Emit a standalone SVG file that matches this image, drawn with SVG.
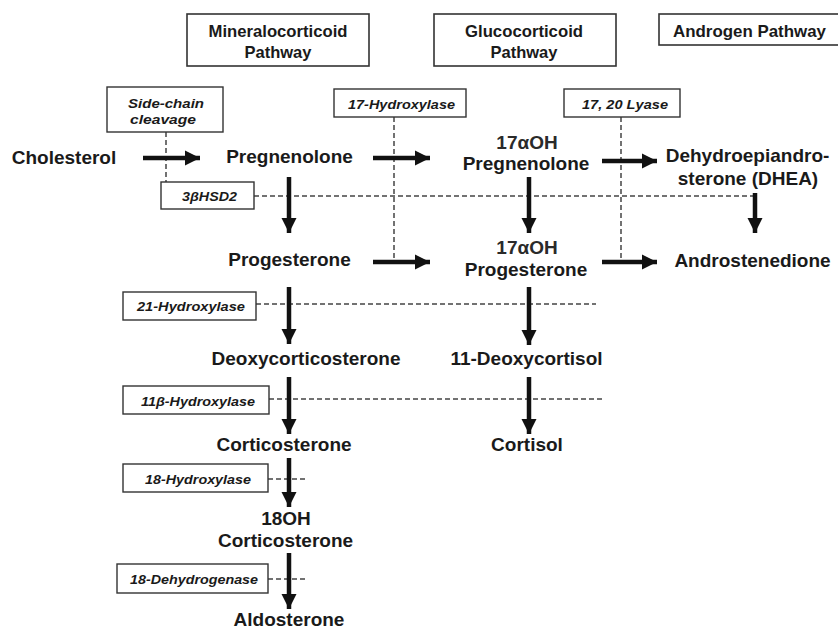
<svg xmlns="http://www.w3.org/2000/svg" width="838" height="630" viewBox="0 0 838 630">
<defs>
<marker id="ah" markerUnits="userSpaceOnUse" markerWidth="16" markerHeight="16" viewBox="0 0 16 16" refX="15" refY="8" orient="auto">
<path d="M0,0.5 L15,8 L0,15.5 Z" fill="#111"/>
</marker>
<style>
.hdr{fill:#fff;stroke:#333;stroke-width:1.6}
.enz{fill:#fff;stroke:#333;stroke-width:1.4}
.ht{font-family:"Liberation Sans",Arial,sans-serif;font-weight:bold;font-size:16.5px;fill:#1a1a1a;text-anchor:middle}
.et{font-family:"Liberation Sans",Arial,sans-serif;font-weight:bold;font-style:italic;font-size:13px;fill:#1a1a1a;text-anchor:middle}
.mt{font-family:"Liberation Sans",Arial,sans-serif;font-weight:bold;font-size:19px;fill:#1a1a1a;text-anchor:middle}
.mr{font-family:"Liberation Sans",Arial,sans-serif;font-weight:bold;font-size:19px;fill:#2a2a2a;text-anchor:middle}
.arr{stroke:#111;stroke-width:4.5;fill:none;marker-end:url(#ah)}
.dash{stroke:#444;stroke-width:1.5;stroke-dasharray:5 3;fill:none}
</style>
</defs>
<rect width="838" height="630" fill="#fff"/>
<g id="connectors">
<line class="dash" x1="166" y1="132" x2="166" y2="182"/>
<line class="dash" x1="394" y1="117" x2="394" y2="258"/>
<line class="dash" x1="621" y1="117" x2="621" y2="258"/>
<line class="dash" x1="254" y1="196" x2="753" y2="196"/>
<line class="dash" x1="256" y1="304" x2="596" y2="304"/>
<line class="dash" x1="269" y1="399" x2="604" y2="399"/>
<line class="dash" x1="268" y1="479" x2="308" y2="479"/>
<line class="dash" x1="268" y1="579" x2="308" y2="579"/>
<line class="arr" x1="143" y1="158" x2="200" y2="158"/>
<line class="arr" x1="373" y1="158" x2="430" y2="158"/>
<line class="arr" x1="373" y1="262" x2="430" y2="262"/>
<line class="arr" x1="602" y1="161" x2="657" y2="161"/>
<line class="arr" x1="602" y1="262" x2="657" y2="262"/>
<line class="arr" x1="289" y1="177" x2="289" y2="233"/>
<line class="arr" x1="289" y1="287" x2="289" y2="344"/>
<line class="arr" x1="289" y1="377" x2="289" y2="434"/>
<line class="arr" x1="289" y1="458" x2="289" y2="507"/>
<line class="arr" x1="289" y1="553" x2="289" y2="609"/>
<line class="arr" x1="529" y1="177" x2="529" y2="233"/>
<line class="arr" x1="529" y1="287" x2="529" y2="345"/>
<line class="arr" x1="529" y1="377" x2="529" y2="434"/>
<line class="arr" x1="755" y1="193" x2="755" y2="233"/>
</g>
<g id="hdr-mineralo"><rect class="hdr" x="187" y="14" width="182" height="52"/><text class="ht" x="278" y="37" textLength="139" lengthAdjust="spacingAndGlyphs">Mineralocorticoid</text><text class="ht" x="278" y="58">Pathway</text></g>
<g id="hdr-gluco"><rect class="hdr" x="434" y="14" width="182" height="52"/><text class="ht" x="524" y="37" textLength="118" lengthAdjust="spacingAndGlyphs">Glucocorticoid</text><text class="ht" x="524" y="58">Pathway</text></g>
<g id="hdr-andro"><rect class="hdr" x="659" y="14" width="190" height="31"/><text class="ht" x="749.5" y="37" textLength="153" lengthAdjust="spacingAndGlyphs">Androgen Pathway</text></g>
<g id="enz-scc"><rect class="enz" x="107" y="87" width="116" height="45"/><text class="et" x="166" y="108" textLength="76" lengthAdjust="spacingAndGlyphs">Side-chain</text><text class="et" x="163" y="124" textLength="66" lengthAdjust="spacingAndGlyphs">cleavage</text></g>
<g id="enz-17oh"><rect class="enz" x="334" y="89" width="132" height="28"/><text class="et" x="401.5" y="108.5" textLength="107" lengthAdjust="spacingAndGlyphs">17-Hydroxylase</text></g>
<g id="enz-lyase"><rect class="enz" x="564" y="89" width="116" height="28"/><text class="et" x="625" y="108.5" textLength="86" lengthAdjust="spacingAndGlyphs">17, 20 Lyase</text></g>
<g id="enz-3bhsd"><rect class="enz" x="161" y="182" width="93" height="27"/><text class="et" x="209.5" y="200.5" textLength="55" lengthAdjust="spacingAndGlyphs">3βHSD2</text></g>
<g id="enz-21oh"><rect class="enz" x="123" y="292" width="133" height="28"/><text class="et" x="191" y="311" textLength="108" lengthAdjust="spacingAndGlyphs">21-Hydroxylase</text></g>
<g id="enz-11b"><rect class="enz" x="123" y="386" width="146" height="28"/><text class="et" x="198" y="405.5" textLength="114" lengthAdjust="spacingAndGlyphs">11β-Hydroxylase</text></g>
<g id="enz-18oh"><rect class="enz" x="123" y="464" width="145" height="28"/><text class="et" x="198" y="483.5" textLength="106" lengthAdjust="spacingAndGlyphs">18-Hydroxylase</text></g>
<g id="enz-18dh"><rect class="enz" x="117" y="564" width="151" height="29"/><text class="et" x="194" y="583.5" textLength="128" lengthAdjust="spacingAndGlyphs">18-Dehydrogenase</text></g>
<g id="cholesterol"><text class="mt" x="64" y="164">Cholesterol</text></g>
<g id="pregnenolone"><text class="mt" x="289.5" y="163">Pregnenolone</text></g>
<g id="progesterone"><text class="mt" x="289.5" y="266">Progesterone</text></g>
<g id="oh-pregnenolone"><text class="mr" x="527" y="149">17αOH</text><text class="mt" x="526" y="170">Pregnenolone</text></g>
<g id="dhea"><text class="mt" x="747.5" y="162">Dehydroepiandro-</text><text class="mt" x="748" y="185">sterone (DHEA)</text></g>
<g id="oh-progesterone"><text class="mr" x="527" y="254">17αOH</text><text class="mt" x="526" y="276">Progesterone</text></g>
<g id="androstenedione"><text class="mt" x="752.5" y="267">Androstenedione</text></g>
<g id="deoxycorticosterone"><text class="mt" x="306" y="365">Deoxycorticosterone</text></g>
<g id="deoxycortisol"><text class="mt" x="526.5" y="365">11-Deoxycortisol</text></g>
<g id="corticosterone"><text class="mt" x="284" y="451">Corticosterone</text></g>
<g id="cortisol"><text class="mt" x="527" y="451">Cortisol</text></g>
<g id="oh-corticosterone"><text class="mt" x="286" y="525">18OH</text><text class="mt" x="285.5" y="547">Corticosterone</text></g>
<g id="aldosterone"><text class="mt" x="289" y="626">Aldosterone</text></g>
</svg>
